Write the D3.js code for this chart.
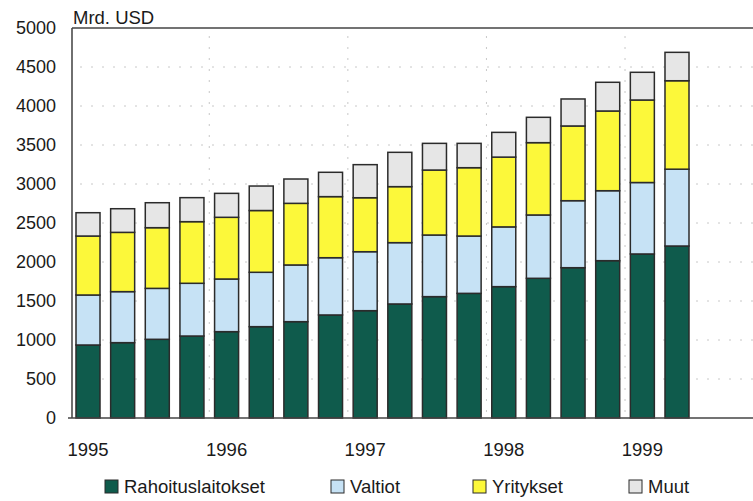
<!DOCTYPE html>
<html><head><meta charset="utf-8">
<script src="https://cdn.jsdelivr.net/npm/d3@7"></script>
<style>
body{margin:0;background:#fff;}
svg{display:block;font-family:"Liberation Sans",Arial,Helvetica,sans-serif;}
</style></head>
<body><svg id="c" width="753" height="501"></svg>
<script>
const quarters = ["1995Q1","1995Q2","1995Q3","1995Q4","1996Q1","1996Q2","1996Q3","1996Q4","1997Q1","1997Q2","1997Q3","1997Q4","1998Q1","1998Q2","1998Q3","1998Q4","1999Q1","1999Q2"];
const rahoituslaitokset = [936,966,1009,1051,1107,1171,1235,1321,1376,1462,1556,1598,1684,1791,1927,2017,2103,2205];
const valtiot = [641,654,653,676,675,697,727,734,756,786,790,735,766,812,859,897,916,985];
const yritykset = [756,760,778,790,791,792,790,783,692,718,833,876,895,927,958,1022,1058,1134];
const muut = [299,303,320,308,307,314,312,312,424,440,342,312,317,325,346,368,355,364];
const seriesNames = ["Rahoituslaitokset","Valtiot","Yritykset","Muut"];
const colors = ["#0f5b4c","#c6e2f5","#fcf83a","#e6e6e6"];
const yTicks = [0,500,1000,1500,2000,2500,3000,3500,4000,4500,5000];
const yearLabels = ["1995","1996","1997","1998","1999"];
const yearStartQuarters = ["1995Q1","1996Q1","1997Q1","1998Q1","1999Q1"];
const unitLabel = "Mrd. USD";

(function(){
const svg = d3.select("#c");
const mLeft = 72, mRight = 753, mTop = 28, mBottom = 418;
const fs = 18.5;

const x = d3.scaleBand().domain(quarters).range([mLeft, 693]).paddingInner(0.307).paddingOuter(0.1154);
const y = d3.scaleLinear().domain([0,5000]).range([mBottom, mTop]);

const table = quarters.map((q,i)=>({q, Rahoituslaitokset:rahoituslaitokset[i], Valtiot:valtiot[i], Yritykset:yritykset[i], Muut:muut[i]}));
const stacked = d3.stack().keys(seriesNames)(table);

// gridlines
const grid = svg.append("g").attr("stroke","#c8c8c8").attr("stroke-width",1).attr("stroke-dasharray","2,9");
grid.selectAll("line.h").data(yTicks.filter(d=>d>0 && d<5000)).join("line")
  .attr("x1",mLeft+8).attr("x2",mRight).attr("y1",d=>y(d)).attr("y2",d=>y(d));
const gap = x.step()*x.paddingInner()/2;
grid.selectAll("line.v").data(yearStartQuarters.slice(1)).join("line")
  .attr("x1",d=>x(d)-gap).attr("x2",d=>x(d)-gap).attr("y1",mTop+8).attr("y2",mBottom);

// bars
svg.append("g").selectAll("g").data(stacked).join("g")
  .attr("fill",(d,i)=>colors[i])
  .selectAll("rect").data(d=>d).join("rect")
  .attr("x",d=>x(d.data.q)).attr("width",x.bandwidth())
  .attr("y",d=>y(d[1])).attr("height",d=>y(d[0])-y(d[1]))
  .attr("stroke","#2b2b2b").attr("stroke-width",1.5);

// frame lines
svg.append("line").attr("x1",mLeft).attr("x2",mLeft).attr("y1",mTop).attr("y2",mBottom).attr("stroke","#333").attr("stroke-width",1.4);
svg.append("line").attr("x1",mLeft).attr("x2",mRight).attr("y1",mTop).attr("y2",mTop).attr("stroke","#444").attr("stroke-width",1.4);

// y axis
const yAxis = d3.axisLeft(y).tickValues(yTicks).tickSize(0).tickPadding(16).tickFormat(d3.format("d"));
const yg = svg.append("g").attr("transform",`translate(${mLeft},0)`).call(yAxis);
yg.select(".domain").remove();
yg.selectAll("text").attr("font-size",18).attr("fill","#1a1a1a").attr("font-family","Liberation Sans, Arial, sans-serif");

// x axis
const xAxis = d3.axisBottom(x).tickValues(yearStartQuarters).tickSize(0).tickPadding(25)
  .tickFormat(d=>yearLabels[yearStartQuarters.indexOf(d)]);
const xg = svg.append("g").attr("transform",`translate(0,${mBottom})`).call(xAxis);
xg.select(".domain").remove();
xg.selectAll("text").attr("font-size",fs).attr("fill","#1a1a1a").attr("font-family","Liberation Sans, Arial, sans-serif");
svg.append("line").attr("x1",mLeft-4).attr("x2",mRight).attr("y1",mBottom).attr("y2",mBottom).attr("stroke","#444").attr("stroke-width",1.4);

// unit label
svg.append("text").attr("x",mLeft+1).attr("y",24).attr("font-size",fs).attr("fill","#1a1a1a").text(unitLabel);

// legend
const legendX = [105,331,473,629];
const lg = svg.append("g");
seriesNames.forEach((n,i)=>{
  lg.append("rect").attr("x",legendX[i]).attr("y",480).attr("width",13).attr("height",13)
    .attr("fill",colors[i]).attr("stroke","#2b2b2b").attr("stroke-width",1);
  lg.append("text").attr("x",legendX[i]+19).attr("y",493).attr("font-size",fs).attr("fill","#1a1a1a").text(n);
});
})();
</script></body></html>
